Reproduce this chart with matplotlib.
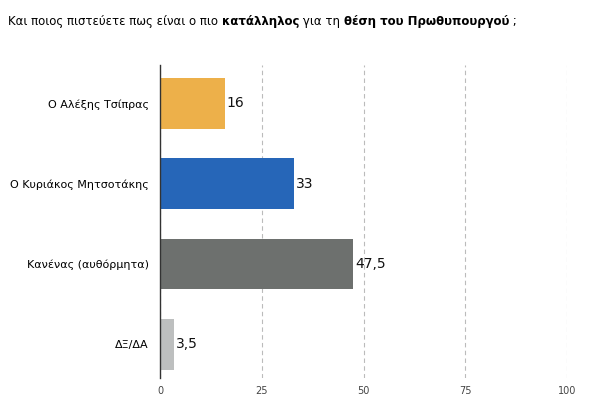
import matplotlib.pyplot as plt

labels = ["Ο Αλέξης Τσίπρας", "Ο Κυριάκος Μητσοτάκης", "Κανένας (αυθόρμητα)", "ΔΞ/ΔΑ"]
values = [16, 33, 47.5, 3.5]
value_text = ["16", "33", "47,5", "3,5"]
colors = ["#EDB04A", "#2666B8", "#6D706E", "#BDBFBF"]
ticks = [0, 25, 50, 75, 100]

fig = plt.figure(figsize=(6, 4.16), dpi=100)
ax = fig.add_axes([0.2667, 0.091, 0.6783, 0.753])
ypos = range(len(labels))
ax.barh(ypos, values, height=0.63, color=colors, zorder=2)
for y, v, t in zip(ypos, values, value_text):
    ax.text(v + 0.4, y, t, va="center", ha="left", fontsize=10, color="#111111")

ax.set_xlim(0, 100)
ax.set_ylim(3.42, -0.48)
ax.set_yticks(list(ypos))
ax.set_yticklabels(labels, fontsize=8)
ax.set_xticks(ticks)
ax.set_xticklabels([str(t) for t in ticks], fontsize=7, color="#444444")
ax.tick_params(length=0, pad=8)
ax.tick_params(axis="x", pad=6)
ax.grid(axis="x", color="#BBBBBB", linestyle=(0, (4, 3)), linewidth=0.8, zorder=0)
for s in ["top", "right", "bottom"]:
    ax.spines[s].set_visible(False)
ax.spines["left"].set_color("#333333")
ax.spines["left"].set_linewidth(1)

# title with bold pieces
parts = [("Και ποιος πιστεύετε πως είναι ο πιο ", "normal"), ("κατάλληλος", "bold"),
         (" για τη ", "normal"), ("θέση του Πρωθυπουργού", "bold"), (" ;", "normal")]
fig.canvas.draw()
r = fig.canvas.get_renderer()
x = 8
for txt, w in parts:
    t = fig.text(x / 600, 1 - 22 / 416, txt, fontsize=8.5, fontweight=w, va="center", ha="left")
    bb = t.get_window_extent(renderer=r)
    x += bb.width

fig.savefig("out.png", dpi=100)
